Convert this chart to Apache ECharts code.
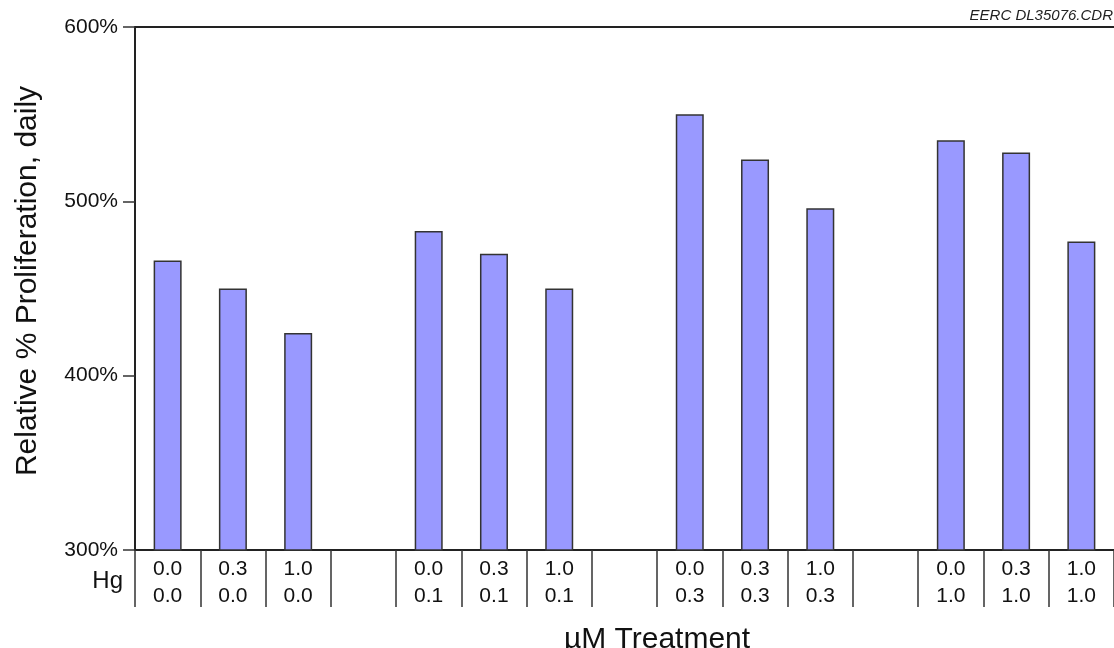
<!DOCTYPE html>
<html>
<head>
<meta charset="utf-8">
<script src="https://cdn.jsdelivr.net/npm/echarts@6/dist/echarts.min.js"></script>
<style>
html,body{margin:0;padding:0;background:#fff;}
#chart{width:1114px;height:648px;}
</style>
</head>
<body>
<div id="chart"></div>
<script>
// Data
const hgRow = ['0.0','0.3','1.0','', '0.0','0.3','1.0','', '0.0','0.3','1.0','', '0.0','0.3','1.0'];
const secondRow = ['0.0','0.0','0.0','', '0.1','0.1','0.1','', '0.3','0.3','0.3','', '1.0','1.0','1.0'];
const proliferation = [466, 450, 424.5, null, 483, 470, 450, null, 550, 524, 496, null, 535, 528, 477];
const yTicks = [300, 400, 500, 600];

const categories = hgRow.map((h, i) => h === '' ? '' : h + '\n' + secondRow[i]);

const chart = echarts.init(document.getElementById('chart'), null, {renderer: 'canvas'});
const font = 'Liberation Sans, Arial, sans-serif';
const axisColor = '#222';

chart.setOption({
  animation: false,
  backgroundColor: '#fff',
  grid: {left: 135, right: 0, top: 27, bottom: 98, containLabel: false},
  xAxis: [{
    type: 'category',
    data: categories,
    position: 'bottom',
    boundaryGap: true,
    axisLine: {show: true, lineStyle: {color: axisColor, width: 2}},
    axisTick: {show: true, interval: 0, length: 57, inside: false, lineStyle: {color: '#333', width: 1.5}},
    axisLabel: {interval: 0, margin: 6, fontFamily: font, fontSize: 21, color: '#111', lineHeight: 27, align: 'center'}
  }, {
    type: 'category',
    data: categories,
    position: 'top',
    axisLine: {show: true, lineStyle: {color: axisColor, width: 2}},
    axisTick: {show: false},
    axisLabel: {show: false}
  }],
  yAxis: {
    type: 'value',
    min: yTicks[0],
    max: yTicks[yTicks.length - 1],
    interval: 100,
    axisLine: {show: true, lineStyle: {color: axisColor, width: 2}},
    axisTick: {show: true, length: 12, inside: false, lineStyle: {color: '#333', width: 1.5}},
    axisLabel: {margin: 17, fontFamily: font, fontSize: 21, color: '#111', formatter: v => v + '%'},
    splitLine: {show: false}
  },
  series: [{
    type: 'bar',
    data: proliferation.map(v => v === null ? '-' : v),
    barWidth: 28,
    itemStyle: {color: '#9999FF', borderColor: '#333', borderWidth: 1.5}
  }],
  graphic: [
    {type: 'text', x: 123, y: 581, style: {text: 'Hg', font: '24px ' + font, fill: '#111', textAlign: 'right', textVerticalAlign: 'middle'}},
    {type: 'text', x: 657, y: 640, style: {text: 'µM Treatment', font: '30px ' + font, fill: '#111', textAlign: 'center', textVerticalAlign: 'middle'}},
    {type: 'text', x: 28, y: 281, rotation: Math.PI / 2, style: {text: 'Relative % Proliferation, daily', font: '30px ' + font, fill: '#111', textAlign: 'center', textVerticalAlign: 'middle'}},
    {type: 'text', x: 1113, y: 16, style: {text: 'EERC DL35076.CDR', font: 'italic 15px ' + font, fill: '#222', textAlign: 'right', textVerticalAlign: 'middle'}}
  ]
});
</script>
</body>
</html>
